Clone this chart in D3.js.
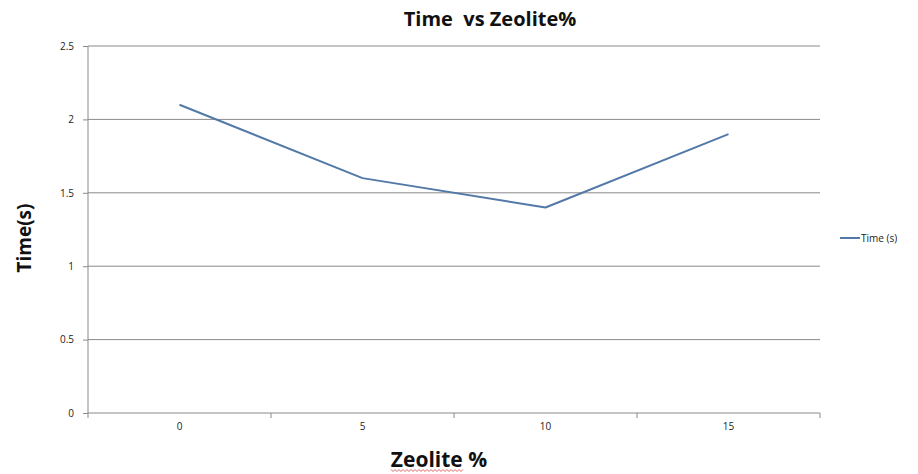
<!DOCTYPE html>
<html>
<head>
<meta charset="utf-8">
<script src="https://cdn.jsdelivr.net/npm/d3@7/dist/d3.min.js"></script>
<style>
  html, body { margin: 0; padding: 0; background: #fff; }
  svg { display: block; }
</style>
</head>
<body>
<svg id="chart" width="918" height="474"></svg>
<script>
// Zeolite content (%) and measured time (s)
const categories = ["0", "5", "10", "15"];
const timeValues = [2.1, 1.6, 1.4, 1.9];
const yTicks = [0, 0.5, 1, 1.5, 2, 2.5];
const yTickLabels = ["0", "0.5", "1", "1.5", "2", "2.5"];
const seriesName = "Time (s)";

const svg = d3.select("#chart");
const plotLeft = 88, plotRight = 820, plotTop = 46, plotBottom = 413;
const lineColor = "#5379a8";
const gridColor = "#8a8a8a";
const font = "'Open Sans', 'DejaVu Sans', sans-serif";

const x = d3.scaleBand().domain(categories).range([plotLeft, plotRight]);
const y = d3.scaleLinear().domain([0, 2.5]).range([plotBottom, plotTop]);

// horizontal gridlines
svg.append("g").selectAll("line").data(yTicks.filter(d => d > 0)).join("line")
  .attr("x1", plotLeft).attr("x2", plotRight)
  .attr("y1", d => y(d)).attr("y2", d => y(d))
  .attr("stroke", gridColor).attr("stroke-width", 1);

// y axis
const yAxis = d3.axisLeft(y).tickValues(yTicks)
  .tickFormat((d, i) => yTickLabels[i]).tickSize(5).tickPadding(9);
const gy = svg.append("g").attr("transform", `translate(${plotLeft},0)`).call(yAxis);
gy.select(".domain").attr("stroke", gridColor).attr("d", `M0,${plotBottom}V${plotTop}`);
gy.selectAll(".tick line").attr("stroke", gridColor);
gy.selectAll(".tick text").attr("font-family", font).attr("font-size", 10).attr("fill", "#222");

// x axis: ticks fall between categories
const gx = svg.append("g").attr("transform", `translate(0,${plotBottom})`)
  .call(d3.axisBottom(x).tickSize(0).tickPadding(10));
gx.select(".domain").attr("stroke", gridColor).attr("d", `M${plotLeft},0H${plotRight}`);
gx.selectAll(".tick text").attr("font-family", font).attr("font-size", 10).attr("fill", "#222");
const bounds = categories.map(c => x(c)).concat([plotRight]);
gx.selectAll(".sep").data(bounds).join("line")
  .attr("class", "sep")
  .attr("x1", d => d).attr("x2", d => d)
  .attr("y1", 0).attr("y2", 5)
  .attr("stroke", gridColor);

// data line
const line = d3.line()
  .x((d, i) => x(categories[i]) + x.bandwidth() / 2)
  .y(d => y(d));
svg.append("path").datum(timeValues)
  .attr("d", line)
  .attr("fill", "none")
  .attr("stroke", lineColor)
  .attr("stroke-width", 2)
  .attr("stroke-linejoin", "round");

// title
svg.append("text").attr("x", 490).attr("y", 26)
  .attr("text-anchor", "middle")
  .style("white-space", "pre")
  .attr("font-family", font).attr("font-weight", "bold").attr("font-size", 20)
  .attr("fill", "#111")
  .text("Time  vs Zeolite%");

// axis titles
svg.append("text")
  .attr("transform", "translate(31,238) rotate(-90)")
  .attr("text-anchor", "middle")
  .attr("font-family", font).attr("font-weight", "bold").attr("font-size", 19)
  .attr("fill", "#111")
  .text("Time(s)");

svg.append("text").attr("x", 439).attr("y", 467)
  .attr("text-anchor", "middle")
  .attr("font-family", font).attr("font-weight", "bold").attr("font-size", 21)
  .attr("fill", "#111")
  .text("Zeolite %");

// spell-check squiggle under "Zeolite"
const sq = [];
for (let px = 391; px <= 463; px += 2) sq.push([px, (px - 391) % 4 === 0 ? 469.5 : 471.5]);
svg.append("path").attr("d", d3.line()(sq))
  .attr("fill", "none").attr("stroke", "#d04040").attr("stroke-width", 0.8);

// legend
svg.append("line")
  .attr("x1", 840).attr("x2", 860).attr("y1", 238).attr("y2", 238)
  .attr("stroke", lineColor).attr("stroke-width", 2);
svg.append("text").attr("x", 861).attr("y", 241.5)
  .attr("font-family", font).attr("font-size", 10).attr("fill", "#222")
  .text(seriesName);
</script>
</body>
</html>
